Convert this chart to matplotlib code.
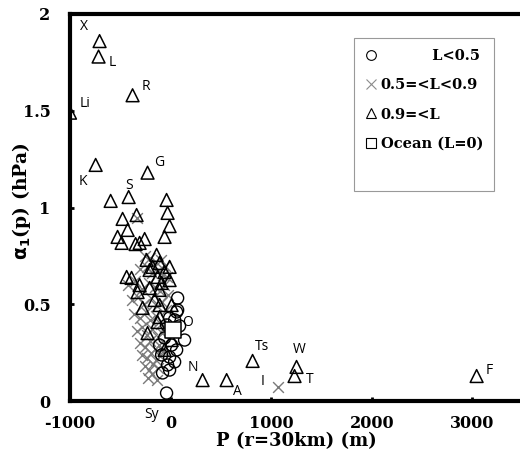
import matplotlib
matplotlib.use('Agg')
import matplotlib.pyplot as plt
from matplotlib.lines import Line2D

plt.rcParams['axes.unicode_minus'] = False

# L < 0.5 (circles)
circle_p = [70, 40, 139, 60, -10, 40, -30, -80, -10, 60, 10, -60, 10, 89, -40, -89, -109, 70, -10, -40]
circle_a = [0.532, 0.419, 0.315, 0.264, 0.227, 0.202, 0.186, 0.145, 0.160, 0.460, 0.367, 0.326, 0.289,
            0.388, 0.393, 0.238, 0.289, 0.470, 0.429, 0.041]

# 0.5 =< L < 0.9 (crosses)
cross_p = [-338, -250, -200, -150, -100, -60, -300, -230, -180, -130, -80, -40,
           -420, -350, -280, -210, -160, -110, -70, -30, -380, -320, -260, -190, -140, -90, -50,
           -360, -300, -240, -200, -150, -100, -60, -330, -280, -230, -180, -130, -90,
           -300, -250, -200, -160, -120, -80, -280, -230, -190, -150, -110,
           -250, -210, -170, -130, -220, -180, -140, 1064]
cross_a = [0.946, 0.75, 0.74, 0.72, 0.73, 0.70, 0.68, 0.69, 0.66, 0.67, 0.65, 0.64,
           0.60, 0.62, 0.58, 0.61, 0.59, 0.57, 0.60, 0.55, 0.52, 0.54, 0.50, 0.53, 0.49, 0.51, 0.47,
           0.45, 0.43, 0.46, 0.42, 0.44, 0.40, 0.38, 0.36, 0.38, 0.34, 0.37, 0.33, 0.35,
           0.30, 0.28, 0.31, 0.27, 0.29, 0.26, 0.24, 0.22, 0.25, 0.21, 0.23,
           0.18, 0.16, 0.19, 0.17, 0.12, 0.14, 0.11, 0.072]

# 0.9 =< L (triangles)
tri_p = [-706, -716, -378, -1000, -745, -229, 318, 557, 815, 1252, 1232, 3042,
         -596, -417, -40, -30, -10, -60, -477, -338, -427, -527, -487, -348, -258, -308,
         -239, -139, -179, -109, -10, -437, -388, -308, -328, -129, -89, -10, -209, -109,
         -278, -109, 10, -109, -129, -229, 10, -209, -60, -159, -60]
tri_a = [1.86, 1.78, 1.58, 1.49, 1.22, 1.18, 0.108, 0.108, 0.207, 0.176, 0.129, 0.129,
         1.034, 1.054, 1.039, 0.972, 0.904, 0.848, 0.941, 0.961, 0.884, 0.848, 0.817, 0.811, 0.837, 0.817,
         0.729, 0.755, 0.693, 0.713, 0.693, 0.641, 0.636, 0.599, 0.563, 0.641, 0.610, 0.625, 0.584, 0.574,
         0.481, 0.496, 0.496, 0.434, 0.408, 0.351, 0.315, 0.677, 0.667, 0.522, 0.264]

# Ocean (L=0)
ocean_p = [20]
ocean_a = [0.367]

# station labels
names = ['X', 'L', 'R', 'Li', 'K', 'G', 'S', 'N', 'A', 'Ts', 'W', 'T', 'I', 'F', 'Sy', 'O']
name_p = [-865, -577, -249, -855, -875, -109, -408, 219, 666, 905, 1282, 1382, 914, 3171, -189, 169]
name_a = [1.933, 1.747, 1.623, 1.535, 1.132, 1.235, 1.116, 0.171, 0.047, 0.284, 0.264, 0.109,
          0.103, 0.160, -0.072, 0.408]

serif = {'family': 'DejaVu Serif', 'weight': 'bold'}

fig = plt.figure(figsize=(5.2, 4.58), dpi=100)
ax = fig.add_axes([70 / 520, 57 / 458, 452.7 / 520, 387 / 458])

ax.scatter(cross_p, cross_a, marker='x', s=60, c='#7a7a7a', linewidths=1.0, zorder=2)
ax.scatter(tri_p, tri_a, marker='^', s=85, facecolors='none', edgecolors='black', linewidths=1.1, zorder=3)
ax.scatter(circle_p, circle_a, marker='o', s=75, facecolors='none', edgecolors='black', linewidths=1.0, zorder=3)
ax.scatter(ocean_p, ocean_a, marker='s', s=120, facecolors='white', edgecolors='black', linewidths=1.1, zorder=4)

for n, p, a in zip(names, name_p, name_a):
    ax.text(p, a, n, fontsize=10, family='Open Sans', ha='center', va='center', clip_on=False, zorder=5)

ax.set_xlim(-1000, 3500)
ax.set_ylim(0, 2)
ax.set_xticks([-1000, 0, 1000, 2000, 3000])
ax.set_yticks([0, 0.5, 1, 1.5, 2])
ax.set_yticklabels(['0', '0.5', '1', '1.5', '2'])

for s in ax.spines.values():
    s.set_linewidth(3)
ax.tick_params(direction='in', length=3, width=2)
ax.tick_params(axis='x', pad=10)
ax.tick_params(axis='y', pad=14)
for lab in ax.get_xticklabels() + ax.get_yticklabels():
    lab.set_fontproperties(serif)
    lab.set_fontsize(11.5)

ax.set_xlabel('P (r=30km) (m)', fontdict=serif, fontsize=13, labelpad=0)
ax.set_ylabel(r'$\mathbf{\alpha_1}$(p) (hPa)', fontdict=serif, fontsize=13.5)
ax.yaxis.set_label_coords(-0.082, 0.517)

handles = [
    Line2D([], [], ls='none', marker='o', ms=7, mfc='none', mec='black', mew=0.8),
    Line2D([], [], ls='none', marker='x', ms=7, color='#8c8c8c', mew=0.8),
    Line2D([], [], ls='none', marker='^', ms=7, mfc='none', mec='black', mew=0.8),
    Line2D([], [], ls='none', marker='s', ms=7, mfc='none', mec='black', mew=0.8),
    Line2D([], [], ls='none'),
]
labels = ['          L<0.5', '0.5=<L<0.9', '0.9=<L', 'Ocean (L=0)', ' ']
leg = ax.legend(handles, labels, loc='upper left', bbox_to_anchor=(0.627, 0.938), borderaxespad=0,
                prop={'family': 'DejaVu Serif', 'weight': 'bold', 'size': 10.5},
                handlelength=0.8, handletextpad=0.3, labelspacing=1.05, borderpad=0.75,
                fancybox=False, framealpha=1, edgecolor='#999999')
leg.get_frame().set_linewidth(0.8)

fig.savefig('out.png', dpi=100)
